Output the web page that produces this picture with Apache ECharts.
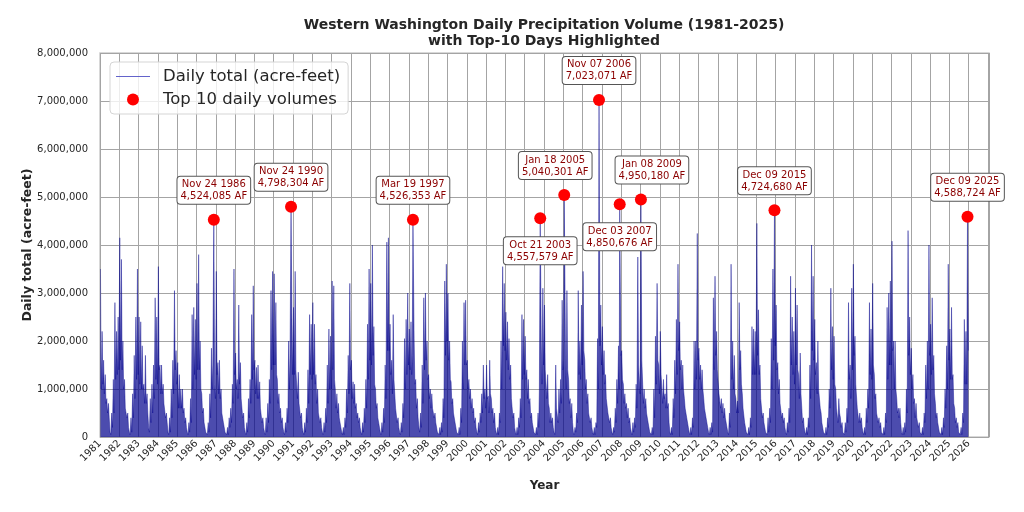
<!DOCTYPE html>
<html>
<head>
<meta charset="utf-8">
<title>Western Washington Daily Precipitation Volume</title>
<script src="https://cdn.jsdelivr.net/npm/echarts@6/dist/echarts.min.js"></script>
<style>
html, body { margin: 0; padding: 0; background: #fff; }
#chart { width: 1024px; height: 512px; }
</style>
</head>
<body>
<div id="chart"></div>
<script>
// 数据 (百万 acre-feet)
var firstYear = 1981;
var monthNames = ['Jan', 'Feb', 'Mar', 'Apr', 'May', 'Jun', 'Jul', 'Aug', 'Sep', 'Oct', 'Nov', 'Dec'];

// 每月最大日降水量 (尖峰)
var monthlyPeak = [
    [3.5, 2.2, 1.6, 1.3, 0.8, 0.7, 0.1, 0.5, 1.2, 2.8, 2.2, 2.5],     // 1981
    [4.15, 3.7, 2.0, 1.2, 0.6, 0.5, 0.1, 0.4, 0.9, 1.7, 2.5, 3.5],    // 1982
    [2.5, 2.4, 1.9, 1.1, 1.7, 0.9, 0.2, 0.8, 1.1, 1.5, 2.9, 2.5],     // 1983
    [3.55, 1.5, 1.5, 1.1, 0.7, 0.5, 0.1, 0.4, 1.0, 1.6, 3.05, 1.8],   // 1984
    [1.55, 1.3, 1.0, 1.0, 0.6, 0.4, 0.1, 0.3, 0.8, 2.55, 2.7, 2.45],  // 1985
    [3.2, 3.8, 2.0, 0.9, 0.6, 0.3, 0.1, 0.3, 0.9, 1.85, 4.52, 1.1],   // 1986
    [3.45, 1.55, 1.6, 1.0, 0.5, 0.3, 0.1, 0.2, 0.4, 0.6, 1.1, 3.5],   // 1987
    [1.75, 1.2, 2.75, 1.55, 0.8, 0.5, 0.1, 0.3, 0.8, 1.2, 2.55, 3.15],// 1988
    [1.6, 1.45, 1.5, 1.15, 0.6, 0.4, 0.1, 0.4, 0.7, 1.2, 3.05, 3.45], // 1989
    [3.4, 2.8, 1.2, 0.9, 0.6, 0.4, 0.1, 0.3, 0.6, 2.0, 4.8, 2.6],     // 1990
    [2.7, 3.45, 1.4, 1.35, 0.7, 0.5, 0.1, 0.3, 0.6, 1.4, 2.55, 2.35], // 1991
    [2.8, 2.35, 1.3, 1.0, 0.5, 0.4, 0.1, 0.3, 0.6, 1.5, 2.25, 2.1],   // 1992
    [3.25, 3.15, 1.0, 0.9, 0.7, 0.4, 0.1, 0.2, 0.4, 1.0, 1.7, 3.2],   // 1993
    [1.6, 1.15, 1.1, 0.7, 0.5, 0.4, 0.1, 0.3, 0.6, 1.2, 2.35, 3.5],   // 1994
    [3.2, 4.0, 2.3, 1.0, 0.7, 0.4, 0.1, 0.3, 0.6, 1.5, 4.06, 4.15],   // 1995
    [2.35, 1.6, 2.55, 1.2, 0.6, 0.4, 0.1, 0.3, 0.7, 2.05, 2.45, 3.0], // 1996
    [2.25, 2.4, 4.53, 2.05, 1.2, 0.8, 0.2, 0.5, 1.5, 2.9, 3.0, 2.0],  // 1997
    [1.3, 1.0, 0.9, 0.6, 0.5, 0.3, 0.1, 0.2, 0.3, 0.8, 3.25, 3.6],    // 1998
    [3.0, 2.0, 1.15, 0.8, 0.5, 0.3, 0.1, 0.2, 0.6, 2.0, 2.8, 2.85],   // 1999
    [1.6, 1.2, 1.0, 0.8, 0.6, 0.4, 0.1, 0.3, 0.5, 0.9, 1.5, 1.0],     // 2000
    [1.5, 0.85, 1.6, 0.8, 0.6, 0.5, 0.1, 0.2, 0.5, 2.0, 3.55, 3.2],   // 2001
    [2.6, 2.4, 2.05, 1.5, 0.8, 0.5, 0.1, 0.2, 0.4, 0.8, 2.55, 2.45],  // 2002
    [2.1, 1.4, 1.2, 0.8, 0.5, 0.3, 0.1, 0.2, 0.5, 4.56, 2.0, 3.1],    // 2003
    [2.75, 1.4, 1.3, 0.6, 0.5, 0.4, 0.1, 1.5, 0.6, 1.0, 1.2, 2.85],   // 2004
    [5.04, 2.0, 3.05, 1.2, 0.8, 0.7, 0.1, 0.2, 0.5, 3.05, 2.0, 2.75], // 2005
    [3.45, 1.6, 1.2, 0.9, 0.5, 0.4, 0.1, 0.2, 0.3, 2.05, 7.02, 2.75], // 2006
    [2.3, 1.8, 1.3, 0.8, 0.5, 0.4, 0.1, 0.2, 0.6, 1.2, 1.9, 4.85],    // 2007
    [1.8, 1.1, 0.9, 0.7, 0.6, 0.4, 0.1, 0.3, 0.4, 1.1, 3.75, 1.5],    // 2008
    [4.95, 1.1, 1.0, 0.8, 0.5, 0.3, 0.1, 0.2, 1.0, 2.1, 3.2, 1.5],    // 2009
    [2.2, 1.0, 1.2, 0.9, 1.3, 0.7, 0.1, 0.2, 0.8, 1.6, 2.45, 3.6],    // 2010
    [2.4, 1.6, 1.5, 0.8, 0.6, 0.4, 0.1, 0.2, 0.4, 2.0, 2.0, 4.24],    // 2011
    [1.85, 1.5, 1.4, 0.8, 0.6, 0.4, 0.1, 0.2, 0.3, 2.9, 3.35, 2.2],   // 2012
    [1.4, 0.9, 0.8, 0.7, 0.6, 0.4, 0.1, 0.5, 3.6, 2.0, 1.7, 0.8],     // 2013
    [0.75, 2.8, 1.8, 0.9, 0.6, 0.3, 0.1, 0.2, 0.4, 2.3, 2.25, 2.2],   // 2014
    [4.45, 2.65, 1.5, 0.8, 0.5, 0.3, 0.1, 0.4, 0.6, 2.05, 3.5, 4.72], // 2015
    [2.75, 1.55, 1.2, 0.7, 0.5, 0.4, 0.1, 0.3, 0.6, 3.35, 2.5, 2.2],  // 2016
    [3.1, 2.75, 1.3, 1.75, 0.6, 0.4, 0.1, 0.2, 0.4, 1.5, 4.0, 3.35],  // 2017
    [2.45, 1.55, 2.0, 1.0, 0.5, 0.3, 0.1, 0.2, 0.4, 1.0, 3.1, 2.3],   // 2018
    [2.1, 1.0, 0.6, 0.8, 0.4, 0.3, 0.1, 0.3, 0.6, 2.8, 1.5, 3.1],     // 2019
    [3.6, 2.1, 1.1, 0.6, 0.5, 0.4, 0.1, 0.2, 0.6, 1.0, 2.8, 2.25],    // 2020
    [3.2, 1.3, 0.9, 0.5, 0.4, 0.3, 0.1, 0.2, 0.5, 2.7, 3.0, 3.25],    // 2021
    [4.08, 2.0, 2.0, 0.8, 0.6, 0.6, 0.1, 0.2, 0.3, 1.0, 4.3, 2.5],    // 2022
    [1.85, 1.3, 0.8, 0.7, 0.4, 0.3, 0.1, 0.2, 0.5, 1.5, 2.0, 4.0],    // 2023
    [2.35, 2.9, 1.7, 0.7, 0.5, 0.3, 0.1, 0.2, 0.4, 1.0, 1.9, 3.6],    // 2024
    [2.25, 2.7, 1.3, 0.6, 0.4, 0.3, 0.1, 0.2, 0.5, 2.45, 2.2, 4.59]   // 2025
];

// 每月一般水平 (蓝色密集区的高度)
var monthlyTypical = [
    [1.0, 1.1, 0.9, 0.7, 0.5, 0.4, 0.05, 0.2, 0.5, 1.2, 1.3, 1.4],   // 1981
    [1.6, 1.4, 1.0, 0.6, 0.4, 0.2, 0.05, 0.1, 0.4, 0.8, 1.2, 1.3],   // 1982
    [1.1, 1.0, 1.0, 0.7, 0.7, 0.5, 0.1, 0.3, 0.5, 0.8, 1.2, 1.1],    // 1983
    [1.4, 0.9, 0.9, 0.7, 0.4, 0.3, 0.05, 0.1, 0.4, 0.9, 1.4, 1.1],   // 1984
    [0.6, 0.6, 0.6, 0.5, 0.3, 0.2, 0.05, 0.1, 0.3, 1.0, 1.3, 1.2],   // 1985
    [1.4, 1.4, 1.0, 0.5, 0.3, 0.1, 0.05, 0.1, 0.4, 1.0, 1.5, 0.8],   // 1986
    [1.3, 0.9, 0.8, 0.5, 0.3, 0.1, 0.05, 0.05, 0.2, 0.3, 0.7, 1.3],  // 1987
    [1.0, 0.8, 1.1, 0.8, 0.4, 0.2, 0.05, 0.1, 0.4, 0.7, 1.2, 1.4],   // 1988
    [0.9, 0.8, 0.8, 0.6, 0.3, 0.2, 0.05, 0.1, 0.3, 0.7, 1.4, 1.5],   // 1989
    [1.5, 1.3, 0.7, 0.5, 0.3, 0.2, 0.05, 0.1, 0.3, 1.0, 1.7, 1.3],   // 1990
    [1.3, 1.4, 0.8, 0.7, 0.4, 0.2, 0.05, 0.1, 0.3, 0.7, 1.3, 1.2],   // 1991
    [1.3, 1.1, 0.7, 0.5, 0.3, 0.2, 0.05, 0.1, 0.3, 0.7, 1.0, 1.0],   // 1992
    [1.4, 1.2, 0.6, 0.5, 0.4, 0.2, 0.05, 0.05, 0.2, 0.5, 0.9, 1.4],  // 1993
    [0.8, 0.7, 0.6, 0.4, 0.3, 0.2, 0.05, 0.1, 0.3, 0.6, 1.2, 1.6],   // 1994
    [1.5, 1.7, 1.1, 0.6, 0.4, 0.2, 0.05, 0.1, 0.3, 0.8, 1.8, 1.8],   // 1995
    [1.3, 0.9, 1.2, 0.6, 0.3, 0.2, 0.05, 0.1, 0.4, 1.0, 1.3, 1.5],   // 1996
    [1.4, 1.3, 1.7, 1.1, 0.6, 0.4, 0.1, 0.2, 0.7, 1.4, 1.6, 1.2],    // 1997
    [0.8, 0.6, 0.6, 0.4, 0.3, 0.1, 0.05, 0.05, 0.1, 0.4, 1.7, 2.0],  // 1998
    [1.6, 1.2, 0.7, 0.5, 0.3, 0.1, 0.05, 0.05, 0.3, 1.0, 1.5, 1.5],  // 1999
    [1.0, 0.8, 0.6, 0.5, 0.3, 0.2, 0.05, 0.1, 0.3, 0.5, 0.8, 0.6],   // 2000
    [0.8, 0.5, 0.9, 0.5, 0.3, 0.2, 0.05, 0.05, 0.3, 1.0, 1.9, 1.8],  // 2001
    [1.6, 1.4, 1.2, 0.8, 0.4, 0.2, 0.05, 0.05, 0.2, 0.4, 1.2, 1.3],  // 2002
    [1.2, 0.8, 0.7, 0.4, 0.3, 0.1, 0.05, 0.05, 0.2, 1.0, 1.1, 1.5],  // 2003
    [1.4, 0.8, 0.7, 0.3, 0.3, 0.2, 0.05, 0.6, 0.3, 0.5, 0.7, 1.4],   // 2004
    [1.6, 1.0, 1.4, 0.7, 0.4, 0.3, 0.05, 0.1, 0.3, 1.3, 1.2, 1.5],   // 2005
    [1.8, 1.0, 0.7, 0.5, 0.3, 0.2, 0.05, 0.05, 0.2, 1.0, 1.9, 1.5],  // 2006
    [1.3, 1.1, 0.8, 0.5, 0.3, 0.2, 0.05, 0.1, 0.3, 0.7, 1.0, 1.7],   // 2007
    [1.2, 0.7, 0.6, 0.4, 0.3, 0.2, 0.05, 0.1, 0.2, 0.6, 1.5, 0.9],   // 2008
    [1.6, 0.7, 0.6, 0.5, 0.3, 0.1, 0.05, 0.05, 0.4, 1.1, 1.6, 0.9],  // 2009
    [1.3, 0.7, 0.8, 0.6, 0.6, 0.3, 0.05, 0.05, 0.4, 0.9, 1.3, 1.8],  // 2010
    [1.4, 1.0, 1.0, 0.6, 0.4, 0.2, 0.05, 0.05, 0.2, 1.0, 1.2, 1.6],  // 2011
    [1.2, 1.0, 1.0, 0.6, 0.4, 0.2, 0.05, 0.05, 0.1, 1.4, 1.7, 1.4],  // 2012
    [0.9, 0.6, 0.5, 0.4, 0.4, 0.2, 0.05, 0.2, 1.2, 1.0, 0.9, 0.5],   // 2013
    [0.5, 1.4, 1.1, 0.6, 0.3, 0.1, 0.05, 0.05, 0.2, 1.3, 1.3, 1.3],  // 2014
    [1.7, 1.3, 0.8, 0.4, 0.3, 0.1, 0.05, 0.1, 0.3, 1.0, 1.6, 1.9],   // 2015
    [1.4, 0.9, 0.7, 0.4, 0.3, 0.2, 0.05, 0.1, 0.3, 1.5, 1.3, 1.1],   // 2016
    [1.5, 1.4, 0.8, 0.9, 0.3, 0.2, 0.05, 0.05, 0.2, 0.8, 1.8, 1.6],  // 2017
    [1.3, 0.9, 1.0, 0.6, 0.3, 0.1, 0.05, 0.05, 0.2, 0.6, 1.4, 1.2],  // 2018
    [1.1, 0.6, 0.3, 0.5, 0.2, 0.1, 0.05, 0.1, 0.3, 1.2, 0.8, 1.4],   // 2019
    [1.7, 1.1, 0.6, 0.3, 0.3, 0.2, 0.05, 0.05, 0.3, 0.6, 1.3, 1.2],  // 2020
    [1.5, 0.8, 0.5, 0.3, 0.2, 0.1, 0.05, 0.05, 0.3, 1.2, 1.5, 1.5],  // 2021
    [1.8, 1.0, 1.0, 0.5, 0.4, 0.3, 0.05, 0.05, 0.1, 0.5, 1.7, 1.3],  // 2022
    [1.0, 0.7, 0.4, 0.4, 0.2, 0.1, 0.05, 0.05, 0.3, 0.8, 1.0, 1.7],  // 2023
    [1.3, 1.4, 0.9, 0.4, 0.3, 0.1, 0.05, 0.05, 0.2, 0.6, 1.0, 1.6],  // 2024
    [1.2, 1.2, 0.7, 0.3, 0.2, 0.1, 0.05, 0.05, 0.3, 1.1, 1.1, 1.8]   // 2025
];

// Top 10 日
var topDates = ['1986-11-24', '1990-11-24', '1997-03-19', '2003-10-21', '2005-01-18',
                '2006-11-07', '2007-12-03', '2009-01-08', '2015-12-09', '2025-12-09'];
var topValues = [4524085, 4798304, 4526353, 4557579, 5040301,
                 7023071, 4850676, 4950180, 4724680, 4588724];

// 标注框的位置调整 (样式, 不是数据)
var labelPlace = {
    '2003-10-21': { position: 'bottom', offset: [0, 0] },
    '2005-01-18': { position: 'top', offset: [-9, 0] },
    '2007-12-03': { position: 'bottom', offset: [0, 0] },
    '2009-01-08': { position: 'top', offset: [11, 0] }
};

// 日期 -> 小数年
function decYear(y, m, d) {
    var start = Date.UTC(y, 0, 1), end = Date.UTC(y + 1, 0, 1);
    return y + (Date.UTC(y, m - 1, d) - start) / (end - start);
}
function fmt(n) {
    return Math.round(n).toLocaleString('en-US');
}

// 折线数据: 每月一个尖峰 + 一个一般水平
var lineData = [];
monthlyPeak.forEach(function (row, i) {
    var y = firstYear + i;
    row.forEach(function (v, m) {
        var peakDay = 10, typDay = 24, val = v * 1e6;
        topDates.forEach(function (d, k) {
            var p = d.split('-');
            if (+p[0] === y && +p[1] === m + 1) {
                peakDay = +p[2];
                val = topValues[k];
                typDay = peakDay < 16 ? 25 : 5;
            }
        });
        lineData.push([decYear(y, m + 1, peakDay), val]);
        lineData.push([decYear(y, m + 1, typDay), monthlyTypical[i][m] * 1e6]);
    });
});
lineData.sort(function (a, b) { return a[0] - b[0]; });

// 散点数据
var topData = topDates.map(function (d, k) {
    var p = d.split('-');
    var place = labelPlace[d] || { position: 'top', offset: [0, 0] };
    return {
        value: [decYear(+p[0], +p[1], +p[2]), topValues[k]],
        name: monthNames[+p[1] - 1] + ' ' + p[2] + ' ' + p[0],
        label: {
            position: place.position,
            offset: place.offset,
            distance: place.position === 'bottom' ? 13 : 10
        }
    };
});

var FONT = 'DejaVu Sans';
var TXT = '#262626';
var BLUE = 'rgba(0,0,139,0.7)';

var chart = echarts.init(document.getElementById('chart'));
var option = {
    animation: false,
    backgroundColor: '#fff',
    graphic: [{
        type: 'text',
        x: 544,
        y: 17,
        style: {
            text: 'Western Washington Daily Precipitation Volume (1981-2025)\nwith Top-10 Days Highlighted',
            align: 'center',
            verticalAlign: 'top',
            fontSize: 14,
            fontWeight: 'bold',
            fontFamily: FONT,
            lineHeight: 16,
            fill: TXT
        }
    }],
    legend: {
        orient: 'vertical',
        left: 110,
        top: 62,
        padding: [6, 8, 6, 6],
        itemWidth: 34,
        itemHeight: 12,
        itemGap: 6,
        backgroundColor: 'rgba(255,255,255,0.8)',
        borderColor: '#d5d5d5',
        borderWidth: 1,
        borderRadius: 4,
        textStyle: { fontSize: 16.5, color: TXT, fontFamily: FONT, padding: [0, 0, 0, 8] },
        data: [
            { name: 'Daily total (acre-feet)', icon: 'path://M0,0H34V1H0Z', itemStyle: { color: 'rgba(60,60,190,0.8)' } },
            { name: 'Top 10 daily volumes', icon: 'circle' }
        ]
    },
    grid: {
        left: 100,
        right: 35,
        top: 53,
        bottom: 75,
        containLabel: false,
        outerBoundsMode: 'none',
        show: true,
        borderColor: '#cccccc',
        borderWidth: 1.5,
        backgroundColor: 'transparent'
    },
    xAxis: {
        type: 'value',
        min: 1981,
        max: 2027.05,
        interval: 1,
        name: 'Year',
        nameLocation: 'middle',
        nameGap: 43,
        nameMoveOverlap: false,
        nameTextStyle: { fontSize: 12, fontWeight: 'bold', color: TXT, fontFamily: FONT },
        axisLine: { show: false },
        axisTick: { show: false },
        axisLabel: {
            rotate: 45,
            margin: 5,
            fontSize: 10,
            color: TXT,
            fontFamily: FONT,
            showMaxLabel: false,
            formatter: function (v) {
                var r = Math.round(v);
                return (Math.abs(v - r) < 1e-6 && r <= 2026) ? String(r) : '';
            }
        },
        splitLine: { show: true, lineStyle: { color: '#a4a4a4', width: 1 } }
    },
    yAxis: {
        type: 'value',
        min: 0,
        max: 8000000,
        interval: 1000000,
        name: 'Daily total (acre-feet)',
        nameLocation: 'middle',
        nameGap: 66,
        nameMoveOverlap: false,
        nameTextStyle: { fontSize: 12.5, fontWeight: 'bold', color: TXT, fontFamily: FONT },
        axisLine: { show: false },
        axisTick: { show: false },
        axisLabel: {
            margin: 12,
            fontSize: 10,
            color: TXT,
            fontFamily: FONT,
            formatter: function (v) { return fmt(v); }
        },
        splitLine: { show: true, lineStyle: { color: '#a4a4a4', width: 1 } }
    },
    series: [{
        name: 'Daily total (acre-feet)',
        type: 'line',
        data: lineData,
        symbol: 'none',
        showSymbol: false,
        sampling: null,
        color: BLUE,
        lineStyle: { color: BLUE, width: 0.6 },
        areaStyle: { color: BLUE, opacity: 1, origin: 'start' },
        z: 2
    }, {
        name: 'Top 10 daily volumes',
        type: 'scatter',
        data: topData,
        symbol: 'circle',
        symbolSize: 12,
        itemStyle: { color: '#ff0000', opacity: 1 },
        z: 5,
        label: {
            show: true,
            formatter: function (p) {
                return p.name + '\n' + fmt(p.value[1]) + ' AF';
            },
            color: '#8b0000',
            fontSize: 10,
            fontFamily: FONT,
            lineHeight: 12,
            align: 'center',
            backgroundColor: '#ffffff',
            borderColor: '#555555',
            borderWidth: 1,
            borderRadius: 3,
            padding: [2, 3, 1, 3]
        }
    }]
};
chart.setOption(option);
</script>
</body>
</html>
